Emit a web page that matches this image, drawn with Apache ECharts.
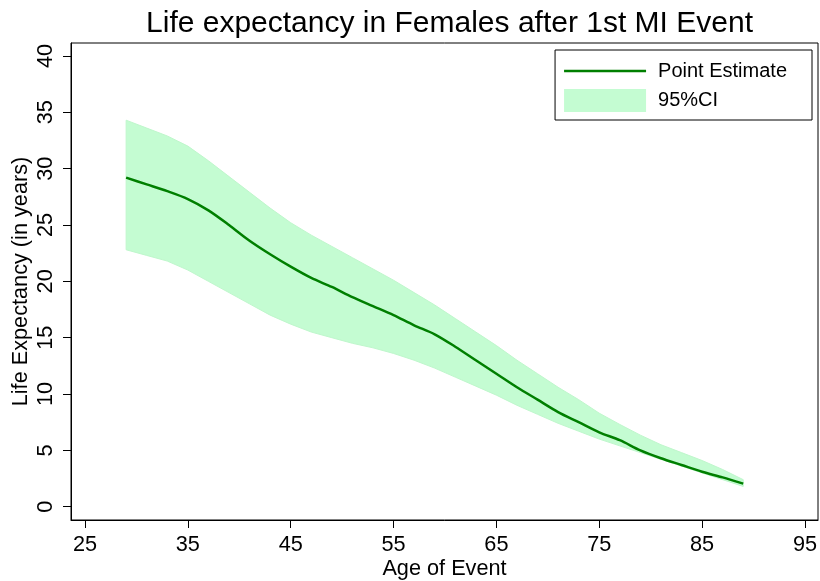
<!DOCTYPE html>
<html>
<head>
<meta charset="utf-8">
<script src="https://cdn.jsdelivr.net/npm/echarts@6/dist/echarts.min.js"></script>
<style>
html,body{margin:0;padding:0;background:#fff;}
#chart{width:820px;height:581px;}
</style>
</head>
<body>
<div id="chart"></div>
<script>
// Data
const ages = [29,31,33,35,37,39,41,43,45,47,49,51,53,55,57,59,61,63,65,67,69,71,73,75,77,79,81,83,85,87,89];
const pointEstimate = [29.2,28.6,28.0,27.3,26.3,25.0,23.6,22.4,21.3,20.3,19.5,18.6,17.8,17.0,16.1,15.3,14.2,13.0,11.8,10.6,9.5,8.4,7.5,6.6,5.9,5.0,4.3,3.7,3.1,2.6,2.05];
const upperCI = [34.3,33.6,32.9,32.0,30.7,29.3,27.9,26.5,25.2,24.1,23.1,22.1,21.1,20.1,19.0,17.9,16.7,15.5,14.3,13.0,11.8,10.6,9.5,8.3,7.3,6.35,5.5,4.8,4.1,3.3,2.4];
const lowerCI = [22.8,22.3,21.8,21.0,20.0,19.0,18.0,17.0,16.2,15.5,15.0,14.5,14.1,13.6,13.0,12.3,11.5,10.7,9.9,9.0,8.2,7.4,6.7,6.0,5.4,4.8,4.2,3.6,3.0,2.4,1.8];
const xTicks = [25,35,45,55,65,75,85,95];
const yTicks = [0,5,10,15,20,25,30,35,40];

const FONT = '"Liberation Sans", Arial, Helvetica, sans-serif';
const bandColor = '#c4fcd2';
const lineColor = '#007f00';

const chart = echarts.init(document.getElementById('chart'), null, {renderer:'canvas'});
const bandData = ages.map((a,i)=>[a, lowerCI[i], upperCI[i]]);
const peData = ages.map((a,i)=>[a, pointEstimate[i]]);

function renderBand(params, api){
  if (params.dataIndex !== 0) return null;
  const upper = [], lower = [];
  for (let i = 0; i < ages.length; i++){
    upper.push(api.coord([ages[i], upperCI[i]]));
    lower.push(api.coord([ages[i], lowerCI[i]]));
  }
  const pts = upper.concat(lower.reverse());
  return {
    type:'polygon',
    shape:{points:pts},
    style:{fill:bandColor, stroke:'#bff7cc', lineWidth:1}
  };
}

chart.setOption({
  animation:false,
  backgroundColor:'#fff',
  title:{
    text:'Life expectancy in Females after 1st MI Event',
    left:444.5, textAlign:'center', top:4,
    textStyle:{fontFamily:FONT, fontSize:30, fontWeight:'normal', color:'#000'}
  },
  grid:{left:71, right:2, top:43, bottom:61, outerBoundsMode:'none', containLabel:false,
        show:true, borderColor:'#000', borderWidth:1, backgroundColor:'#fff'},
  legend:{
    orient:'vertical', right:8, top:50,
    padding:[11,25,8,9],
    borderColor:'#000', borderWidth:1, backgroundColor:'#fff',
    itemWidth:82, itemHeight:23, itemGap:8,
    textStyle:{fontFamily:FONT, fontSize:20, color:'#000', padding:[0,0,0,7]},
    data:[
      {name:'Point Estimate', icon:'path://M0,0L82,0L82,2.5L0,2.5Z', itemStyle:{color:lineColor}},
      {name:'95%CI', icon:'rect', itemStyle:{color:bandColor}}
    ]
  },
  xAxis:{
    type:'value', min:23.64, max:96.27,
    name:'Age of Event', nameLocation:'middle', nameGap:38, nameMoveOverlap:false,
    nameTextStyle:{fontFamily:FONT, fontSize:21.7, color:'#000'},
    axisLine:{show:true, onZero:false, lineStyle:{color:'#000', width:1}},
    axisTick:{show:true, length:8, lineStyle:{color:'#000'}, customValues:xTicks},
    axisLabel:{fontFamily:FONT, fontSize:21.7, color:'#000', margin:14, customValues:xTicks},
    splitLine:{show:false}
  },
  yAxis:{
    type:'value', min:-1.18, max:41.15,
    name:'Life Expectancy (in years)', nameLocation:'middle', nameGap:38.5, nameRotate:90, nameMoveOverlap:false,
    nameTextStyle:{fontFamily:FONT, fontSize:21.7, color:'#000'},
    axisLine:{show:true, onZero:false, lineStyle:{color:'#000', width:1}},
    axisTick:{show:true, length:8, lineStyle:{color:'#000'}, customValues:yTicks},
    axisLabel:{fontFamily:FONT, fontSize:21.7, color:'#000', rotate:90, margin:14, customValues:yTicks},
    splitLine:{show:false}
  },
  series:[
    {
      name:'95%CI', type:'custom', renderItem:renderBand, data:bandData,
      color:bandColor, encode:{x:0, y:[1,2]}, silent:true, z:1
    },
    {
      name:'Point Estimate', type:'line', data:peData,
      symbol:'none', showSymbol:false, color:lineColor, smooth:0.3,
      lineStyle:{color:lineColor, width:2.5}, z:3
    }
  ]
});
</script>
</body>
</html>
